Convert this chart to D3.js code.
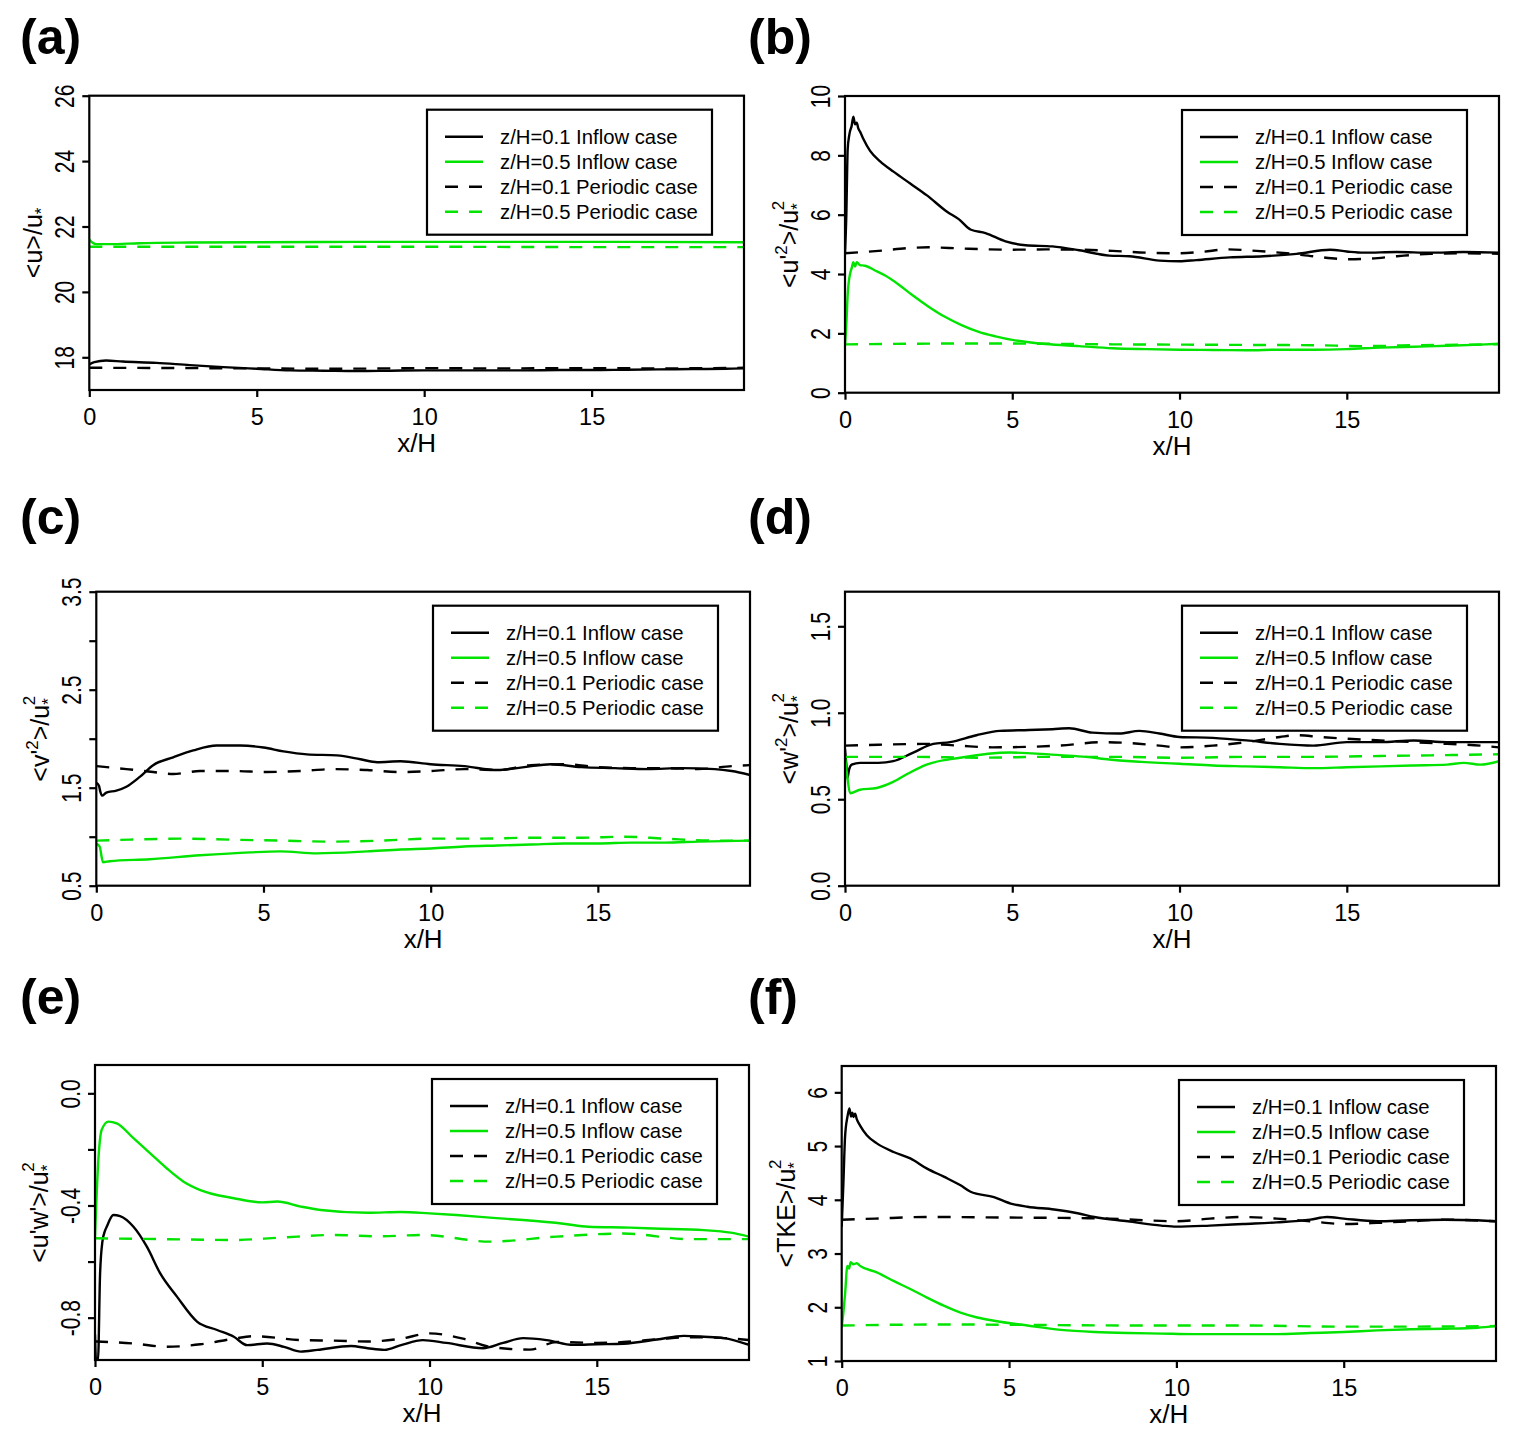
<!DOCTYPE html>
<html><head><meta charset="utf-8">
<script src="https://cdn.jsdelivr.net/npm/d3@7"></script>
<style>
body{margin:0;background:#fff}
text{font-family:"Liberation Sans",Arial,Helvetica,sans-serif;fill:#000}
</style></head>
<body><svg id="c" width="1524" height="1439"></svg>
<script>
// ---------- shared ----------
const xTicks = [0, 5, 10, 15];
const xDomain = [0, 19.55];
const legendLabels = ["z/H=0.1 Inflow case", "z/H=0.5 Inflow case", "z/H=0.1 Periodic case", "z/H=0.5 Periodic case"];

// ---------- (a) <u>/u* ----------
const aYTicks = [18, 20, 22, 24, 26];
const aYTickLabels = ["18", "20", "22", "24", "26"];
const aInflow01 = [[0,17.78],[0.15,17.85],[0.5,17.9],[1,17.87],[2,17.83],[3,17.76],[4,17.7],[5,17.65],[6,17.6],[7,17.59],[8,17.58],[9,17.59],[10,17.6],[11,17.6],[12,17.6],[13,17.6],[14,17.61],[15,17.61],[16,17.62],[17,17.63],[18,17.64],[19,17.65],[19.55,17.66]];
const aInflow05 = [[0,21.6],[0.1,21.5],[0.2,21.46],[0.6,21.46],[1.5,21.49],[3,21.51],[5,21.52],[8,21.53],[12,21.53],[16,21.53],[19.55,21.52]];
const aPeriodic01 = [[0,17.68],[3,17.67],[5,17.66],[7,17.65],[9,17.66],[10,17.67],[12,17.66],[15,17.67],[17,17.66],[19.55,17.68]];
const aPeriodic05 = [[0,21.38],[5,21.38],[10,21.38],[15,21.37],[19.55,21.37]];

// ---------- (b) <u'^2>/u*^2 ----------
const bYTicks = [0, 2, 4, 6, 8, 10];
const bYTickLabels = ["0", "2", "4", "6", "8", "10"];
const bInflow01 = [[0,4.7],[0.04,6.0],[0.08,8.2],[0.13,8.7],[0.2,9.0],[0.25,9.3],[0.3,9.05],[0.35,9.1],[0.4,8.9],[0.45,8.8],[0.55,8.55],[0.75,8.15],[1.05,7.8],[1.45,7.45],[1.95,7.05],[2.45,6.65],[3.05,6.1],[3.4,5.85],[3.75,5.5],[4.2,5.38],[4.8,5.1],[5.4,4.97],[6.2,4.93],[7.0,4.8],[7.9,4.62],[8.5,4.6],[9.4,4.45],[10.0,4.43],[10.5,4.47],[11.5,4.56],[12.5,4.6],[13.5,4.68],[14.5,4.82],[15.0,4.76],[15.5,4.72],[16.5,4.74],[17.5,4.72],[18.5,4.74],[19.55,4.72]];
const bInflow05 = [[0,1.6],[0.04,2.3],[0.08,3.3],[0.15,4.0],[0.2,4.2],[0.25,4.4],[0.3,4.25],[0.35,4.4],[0.45,4.3],[0.6,4.28],[0.9,4.12],[1.2,3.95],[1.6,3.65],[2.0,3.3],[2.5,2.9],[3.0,2.55],[3.5,2.27],[4.0,2.05],[4.5,1.9],[5.0,1.78],[5.5,1.7],[6.0,1.64],[7.0,1.57],[8.0,1.5],[9.0,1.47],[10.0,1.45],[11.0,1.44],[12.0,1.43],[13.0,1.45],[14.0,1.45],[15.0,1.47],[16.0,1.52],[17.0,1.55],[18.0,1.58],[19.0,1.62],[19.55,1.65]];
const bPeriodic01 = [[0,4.7],[1,4.78],[2,4.88],[2.5,4.9],[3.5,4.86],[5,4.82],[6,4.83],[7,4.82],[8,4.78],[9,4.72],[10,4.7],[10.7,4.75],[11.4,4.83],[12.3,4.78],[13.2,4.7],[14,4.6],[15,4.5],[15.7,4.52],[16.5,4.6],[17.5,4.68],[18.5,4.7],[19.55,4.68]];
const bPeriodic05 = [[0,1.63],[2,1.65],[4,1.66],[6,1.65],[8,1.63],[10,1.62],[12,1.61],[14,1.6],[15.5,1.57],[17,1.6],[19.55,1.63]];

// ---------- (c) <v'^2>/u*^2 ----------
const cYTicks = [0.5, 1, 1.5, 2, 2.5, 3, 3.5];
const cYTickLabels = ["0.5", "", "1.5", "", "2.5", "", "3.5"];
const cInflow01 = [[0,1.55],[0.08,1.52],[0.12,1.46],[0.17,1.42],[0.3,1.45],[0.6,1.47],[0.9,1.51],[1.3,1.61],[1.7,1.73],[2.3,1.81],[2.9,1.88],[3.6,1.93],[4.3,1.93],[5.0,1.91],[5.6,1.87],[6.3,1.84],[7.2,1.83],[7.9,1.79],[8.4,1.76],[9.1,1.77],[10.0,1.74],[11.0,1.72],[12.0,1.68],[12.8,1.71],[13.6,1.74],[14.5,1.71],[15.5,1.70],[16.5,1.69],[17.5,1.70],[18.5,1.69],[19.0,1.67],[19.55,1.63]];
const cInflow05 = [[0,0.93],[0.1,0.9],[0.2,0.74],[0.4,0.75],[1.6,0.77],[3.1,0.81],[4.6,0.84],[5.5,0.85],[6.6,0.83],[8.1,0.85],[9.1,0.87],[10,0.88],[11,0.9],[12,0.91],[13,0.92],[14,0.93],[15,0.93],[16,0.94],[17,0.94],[18,0.95],[19.55,0.96]];
const cPeriodic01 = [[0,1.72],[0.9,1.69],[1.7,1.66],[2.3,1.64],[3.1,1.67],[4.1,1.67],[5.1,1.66],[6.1,1.67],[7.1,1.69],[8.1,1.68],[9.1,1.66],[10,1.67],[11,1.69],[12,1.68],[13,1.73],[14,1.74],[15,1.71],[16,1.70],[17,1.70],[18,1.69],[19,1.72],[19.55,1.73]];
const cPeriodic05 = [[0,0.96],[1,0.97],[2.5,0.98],[4,0.97],[5.5,0.96],[7,0.95],[8.5,0.96],[10,0.98],[11.5,0.98],[13,0.99],[14.5,0.99],[15.8,1.0],[17,0.98],[18.5,0.96],[19.55,0.96]];

// ---------- (d) <w'^2>/u*^2 ----------
const dYTicks = [0, 0.5, 1, 1.5];
const dYTickLabels = ["0.0", "0.5", "1.0", "1.5"];
const dInflow01 = [[0,0.79],[0.04,0.7],[0.07,0.62],[0.12,0.67],[0.2,0.7],[0.45,0.71],[1.0,0.71],[1.44,0.72],[2.04,0.77],[2.64,0.82],[3.14,0.83],[3.93,0.87],[4.63,0.895],[5.5,0.9],[6.2,0.905],[6.7,0.91],[7.4,0.885],[8.2,0.88],[8.8,0.895],[9.4,0.88],[10,0.86],[11,0.855],[12,0.84],[13,0.82],[14,0.81],[15,0.83],[16,0.83],[17,0.84],[18,0.83],[19,0.83],[19.55,0.83]];
const dInflow05 = [[0,0.75],[0.07,0.63],[0.15,0.535],[0.45,0.555],[0.95,0.565],[1.44,0.6],[1.9,0.65],[2.44,0.7],[3.44,0.74],[4.93,0.77],[5.6,0.765],[6.42,0.755],[7.2,0.745],[7.9,0.73],[9.4,0.71],[10,0.705],[11,0.695],[12,0.69],[13,0.685],[14,0.68],[15,0.685],[16,0.69],[17,0.695],[18,0.7],[18.5,0.71],[19,0.7],[19.55,0.72]];
const dPeriodic01 = [[0,0.81],[1,0.815],[2.4,0.82],[3.4,0.81],[4.4,0.8],[6.4,0.81],[7.7,0.83],[8.5,0.825],[9.4,0.81],[10,0.8],[11,0.81],[12,0.83],[13,0.86],[13.5,0.87],[14.2,0.86],[15,0.85],[16,0.84],[17,0.83],[18,0.82],[19,0.81],[19.55,0.8]];
const dPeriodic05 = [[0,0.745],[2,0.745],[4,0.74],[6,0.745],[8,0.745],[10,0.74],[12,0.745],[14,0.745],[16,0.75],[18,0.755],[19.55,0.76]];

// ---------- (e) <u'w'>/u*^2 ----------
const eYTicks = [0, -0.2, -0.4, -0.6, -0.8];
const eYTickLabels = ["0.0", "", "-0.4", "", "-0.8"];
const eInflow01 = [[0,-0.86],[0.03,-0.95],[0.09,-0.95],[0.15,-0.65],[0.22,-0.53],[0.3,-0.49],[0.35,-0.476],[0.55,-0.434],[0.75,-0.438],[1.15,-0.476],[1.55,-0.547],[1.95,-0.642],[2.45,-0.725],[3.05,-0.814],[3.65,-0.844],[4.15,-0.868],[4.55,-0.898],[5.15,-0.892],[5.65,-0.904],[6.15,-0.921],[6.65,-0.915],[7.65,-0.901],[8.15,-0.909],[8.65,-0.915],[9.15,-0.898],[9.8,-0.88],[10.5,-0.89],[11.6,-0.909],[12.2,-0.89],[12.8,-0.873],[13.5,-0.88],[14.3,-0.897],[15.0,-0.895],[15.8,-0.893],[16.8,-0.878],[17.6,-0.865],[18.2,-0.868],[18.8,-0.873],[19.55,-0.897]];
const eInflow05 = [[0,-0.511],[0.1,-0.238],[0.2,-0.13],[0.4,-0.101],[0.65,-0.107],[1.15,-0.16],[1.65,-0.214],[2.15,-0.268],[2.65,-0.315],[3.15,-0.345],[4.15,-0.374],[5.0,-0.389],[5.45,-0.386],[6.15,-0.404],[6.75,-0.416],[8.15,-0.426],[9.15,-0.423],[10.0,-0.428],[10.8,-0.434],[12.0,-0.445],[12.8,-0.452],[14.0,-0.465],[14.75,-0.476],[16.0,-0.479],[16.7,-0.482],[18.2,-0.488],[19.0,-0.497],[19.55,-0.511]];
const ePeriodic01 = [[0,-0.885],[1.15,-0.892],[2.15,-0.904],[3.15,-0.895],[4.15,-0.875],[4.75,-0.866],[6.15,-0.88],[7.15,-0.882],[8.15,-0.885],[9.15,-0.875],[10.0,-0.856],[11.0,-0.875],[11.8,-0.904],[13,-0.914],[13.8,-0.887],[15,-0.89],[15.8,-0.887],[17,-0.875],[17.8,-0.87],[18.7,-0.872],[19.55,-0.88]];
const ePeriodic05 = [[0,-0.517],[2,-0.52],[4.15,-0.523],[5.5,-0.515],[7.15,-0.505],[8.5,-0.51],[9.8,-0.505],[11.8,-0.529],[13.8,-0.511],[15.8,-0.5],[17.8,-0.52],[19.55,-0.52]];

// ---------- (f) <TKE>/u*^2 ----------
const fYTicks = [1, 2, 3, 4, 5, 6];
const fYTickLabels = ["1", "2", "3", "4", "5", "6"];
const fInflow01 = [[0,3.5],[0.05,4.3],[0.1,5.17],[0.17,5.54],[0.23,5.7],[0.28,5.55],[0.32,5.62],[0.35,5.54],[0.4,5.6],[0.45,5.5],[0.55,5.38],[0.75,5.2],[1.05,5.05],[1.55,4.89],[2.05,4.77],[2.55,4.58],[3.05,4.43],[3.55,4.27],[3.85,4.15],[4.55,4.05],[5.05,3.93],[5.55,3.87],[6.35,3.82],[7.05,3.75],[7.55,3.68],[8.55,3.6],[9.55,3.52],[10,3.5],[11,3.52],[12,3.55],[13,3.58],[14,3.63],[14.5,3.68],[15,3.65],[16,3.6],[17,3.62],[18,3.63],[19,3.62],[19.55,3.6]];
const fInflow05 = [[0,1.62],[0.05,1.9],[0.1,2.24],[0.17,2.77],[0.22,2.72],[0.27,2.84],[0.35,2.8],[0.45,2.82],[0.55,2.77],[1.05,2.65],[1.55,2.49],[2.05,2.34],[2.55,2.18],[3.05,2.03],[3.55,1.9],[4.05,1.81],[4.55,1.75],[5.55,1.66],[6.55,1.58],[7.55,1.54],[8.55,1.52],[9.55,1.51],[10.5,1.5],[12,1.5],[13,1.5],[14,1.52],[15,1.54],[16,1.57],[17,1.59],[18,1.6],[19,1.62],[19.55,1.65]];
const fPeriodic01 = [[0,3.63],[1,3.65],[2.5,3.68],[5,3.67],[7,3.66],[8,3.65],[9,3.62],[10,3.6],[11,3.65],[12,3.68],[13,3.65],[14,3.6],[15,3.55],[16,3.57],[17,3.6],[18,3.63],[19.55,3.6]];
const fPeriodic05 = [[0,1.66],[3,1.68],[6,1.67],[9,1.66],[12,1.66],[15,1.64],[17,1.64],[19.55,1.65]];

// ---------- drawing ----------
const GREEN = "#00e400";
const seriesStyle = [
  {color: "#000", dash: null},
  {color: GREEN, dash: null},
  {color: "#000", dash: "13,11"},
  {color: GREEN, dash: "13,11"}
];

const panels = [
  {label: "(a)", lx: 20, ly: 54, box: [89.3, 744, 95.7, 390], yDomain: [17, 26], yTicks: aYTicks, yLabels: aYTickLabels,
   title: [["n", "<u>/u"], ["sub", "*"]], data: [aInflow01, aInflow05, aPeriodic01, aPeriodic05]},
  {label: "(b)", lx: 748, ly: 54, box: [845, 1499, 96, 392.7], yDomain: [0, 10], yTicks: bYTicks, yLabels: bYTickLabels,
   title: [["n", "<u'"], ["sup", "2"], ["n", ">/u"], ["sub", "*"], ["stack", "2"]], data: [bInflow01, bInflow05, bPeriodic01, bPeriodic05]},
  {label: "(c)", lx: 20, ly: 534, box: [96.3, 750, 591.7, 885.7], yDomain: [0.5, 3.5], yTicks: cYTicks, yLabels: cYTickLabels,
   title: [["n", "<v'"], ["sup", "2"], ["n", ">/u"], ["sub", "*"], ["stack", "2"]], data: [cInflow01, cInflow05, cPeriodic01, cPeriodic05]},
  {label: "(d)", lx: 748, ly: 534, box: [845, 1499, 591.7, 885.7], yDomain: [0, 1.7], yTicks: dYTicks, yLabels: dYTickLabels,
   title: [["n", "<w'"], ["sup", "2"], ["n", ">/u"], ["sub", "*"], ["stack", "2"]], data: [dInflow01, dInflow05, dPeriodic01, dPeriodic05]},
  {label: "(e)", lx: 20, ly: 1014, box: [95, 749, 1065, 1360], yDomain: [-0.951, 0.101], yTicks: eYTicks, yLabels: eYTickLabels,
   title: [["n", "<u'w'>/u"], ["sub", "*"], ["stack", "2"]], data: [eInflow01, eInflow05, ePeriodic01, ePeriodic05]},
  {label: "(f)", lx: 748, ly: 1014, box: [841.7, 1496, 1066, 1361], yDomain: [1, 6.49], yTicks: fYTicks, yLabels: fYTickLabels,
   title: [["n", "<TKE>/u"], ["sub", "*"], ["stack", "2"]], data: [fInflow01, fInflow05, fPeriodic01, fPeriodic05]}
];

const svg = d3.select("#c");
svg.append("rect").attr("width", 1524).attr("height", 1439).attr("fill", "#fff");

panels.forEach((p, pi) => {
  const [L, R, T, B] = p.box;
  const x = d3.scaleLinear().domain(xDomain).range([L, R]);
  const y = d3.scaleLinear().domain(p.yDomain).range([B, T]);

  // panel label
  svg.append("text").attr("x", p.lx).attr("y", p.ly)
    .attr("font-size", 50).attr("font-weight", "bold").text(p.label);

  // clip
  const cid = "clip" + pi;
  svg.append("clipPath").attr("id", cid).append("rect")
    .attr("x", L).attr("y", T).attr("width", R - L).attr("height", B - T);

  // lines
  const line = d3.line().x(d => x(d[0])).y(d => y(d[1])).curve(d3.curveMonotoneX);
  const g = svg.append("g").attr("clip-path", `url(#${cid})`);
  p.data.forEach((ser, si) => {
    const st = seriesStyle[si];
    g.append("path").datum(ser).attr("d", line)
      .attr("fill", "none").attr("stroke", st.color).attr("stroke-width", 2.4)
      .attr("stroke-dasharray", st.dash);
  });

  // box
  svg.append("rect").attr("x", L).attr("y", T).attr("width", R - L).attr("height", B - T)
    .attr("fill", "none").attr("stroke", "#000").attr("stroke-width", 2.2);

  // x axis
  const xa = svg.append("g").attr("transform", `translate(0,${B})`)
    .call(d3.axisBottom(x).tickValues(xTicks).tickFormat(d3.format("d")).tickSize(7));
  xa.select(".domain").remove();
  xa.selectAll(".tick line").attr("stroke", "#000").attr("stroke-width", 2.2);
  xa.selectAll(".tick text").attr("y", 35).attr("dy", 0)
    .attr("font-size", 23.5).attr("font-family", "Liberation Sans, Arial, sans-serif").attr("fill", "#000");

  // y axis
  const ya = svg.append("g").attr("transform", `translate(${L},0)`)
    .call(d3.axisLeft(y).tickValues(p.yTicks).tickFormat((d, i) => p.yLabels[i]).tickSize(7));
  ya.select(".domain").remove();
  ya.selectAll(".tick line").attr("stroke", "#000").attr("stroke-width", 2.2);
  ya.selectAll(".tick text").attr("x", 0).attr("y", 0).attr("dy", 0)
    .attr("transform", "translate(-15,0) rotate(-90) scale(1,1.32)").attr("text-anchor", "middle")
    .attr("font-size", 21).attr("font-family", "Liberation Sans, Arial, sans-serif").attr("fill", "#000");

  // x title
  svg.append("text").attr("x", (L + R) / 2).attr("y", B + 62).attr("text-anchor", "middle")
    .attr("font-size", 26).text("x/H");

  // y title with super/subscripts
  const yt = svg.append("text").attr("text-anchor", "middle")
    .attr("transform", `translate(${L - 47},${(T + B) / 2}) rotate(-90)`)
    .attr("font-size", 25);
  let cur = 0;
  p.title.forEach(([type, txt]) => {
    const ts = yt.append("tspan").text(txt);
    if (type === "n") { ts.attr("dy", -cur); cur = 0; }
    else if (type === "sup") { ts.attr("dy", -11 - cur).attr("font-size", 17); cur = -11; }
    else if (type === "sub") { ts.attr("dy", 5 - cur).attr("font-size", 17); cur = 5; }
    else if (type === "stack") { ts.attr("dx", -7).attr("dy", -14 - cur).attr("font-size", 17); cur = -14; }
  });

  // legend
  const LW = 285, LH = 125;
  const lx = R - 32 - LW, ly = T + 14;
  const lg = svg.append("g");
  lg.append("rect").attr("x", lx).attr("y", ly).attr("width", LW).attr("height", LH)
    .attr("fill", "#fff").attr("stroke", "#000").attr("stroke-width", 2.2);
  legendLabels.forEach((lab, i) => {
    const st = seriesStyle[i];
    lg.append("line").attr("x1", lx + 18).attr("x2", lx + 56)
      .attr("y1", ly + 27 + 25 * i).attr("y2", ly + 27 + 25 * i)
      .attr("stroke", st.color).attr("stroke-width", 2.4).attr("stroke-dasharray", st.dash);
    lg.append("text").attr("x", lx + 73).attr("y", ly + 34 + 25 * i)
      .attr("font-size", 20.3).text(lab);
  });
});
</script></body></html>
